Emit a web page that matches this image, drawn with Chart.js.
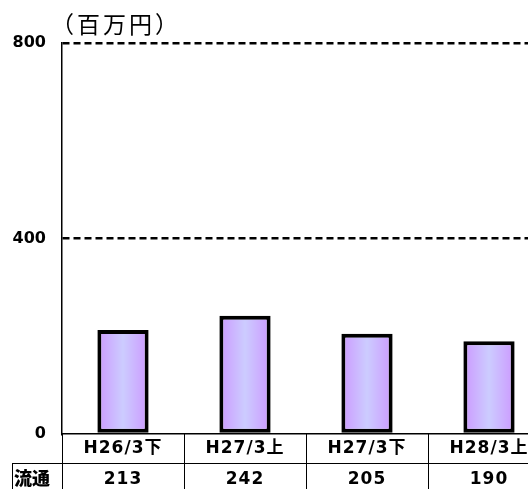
<!DOCTYPE html>
<html><head><meta charset="utf-8">
<script src="https://cdn.jsdelivr.net/npm/chart.js@4"></script>
<style>html,body{margin:0;padding:0;overflow:hidden;background:#fff;width:528px;height:489px}canvas{display:block}</style>
</head><body>
<canvas id="c" width="560" height="489"></canvas>
<script>
const categories = ['H26/3下', 'H27/3上', 'H27/3下', 'H28/3上'];
const values = [213, 242, 205, 190];
const rowLabel = '流通';
const unitLabel = '（百万円）';
const yTicks = [0, 400, 800];

const BAR_PCT = 0.42;

function barGradient(ctx) {
  const chart = ctx.chart;
  const xs = chart.scales.x;
  if (!chart.chartArea || !xs || ctx.dataIndex === undefined) return '#cc99ff';
  const cx = xs.getPixelForValue(ctx.dataIndex);
  const w = xs.width / categories.length * BAR_PCT;
  const g = chart.ctx.createLinearGradient(cx - w / 2, 0, cx + w / 2, 0);
  g.addColorStop(0, '#cc99ff');
  g.addColorStop(0.5, '#ccccff');
  g.addColorStop(1, '#cc99ff');
  return g;
}

const tablePlugin = {
  id: 'tablePlugin',
  afterDraw(chart) {
    const c = chart.ctx;
    const xs = chart.scales.x;
    const area = chart.chartArea;
    const bottom = area.bottom;
    const rowMid = 463;
    const end = 489;
    c.save();
    c.strokeStyle = '#000';
    c.lineWidth = 1;
    for (let i = 0; i <= categories.length; i++) {
      const x = Math.round(xs.getPixelForValue(i - 0.5)) + 0.5;
      c.beginPath(); c.moveTo(x, bottom); c.lineTo(x, end); c.stroke();
    }
    c.beginPath(); c.moveTo(12, rowMid + 0.5); c.lineTo(area.right, rowMid + 0.5); c.stroke();
    c.beginPath(); c.moveTo(12.5, rowMid); c.lineTo(12.5, end); c.stroke();
    c.fillStyle = '#000';
    c.textAlign = 'center';
    c.textBaseline = 'middle';
    c.font = 'bold 17px "DejaVu Sans", "Noto Sans CJK JP"';
    c.letterSpacing = '1px';
    categories.forEach((lab, i) => {
      c.fillText(lab, xs.getPixelForValue(i), 449);
    });
    values.forEach((v, i) => {
      c.fillText(String(v), xs.getPixelForValue(i), 480);
    });
    c.letterSpacing = '0px';
    c.font = '900 18px "Noto Sans CJK JP"';
    c.textAlign = 'left';
    c.fillText(rowLabel, 14, 478);
    c.font = '23px "Noto Sans CJK JP"';
    c.letterSpacing = '3px';
    c.textAlign = 'left';
    c.fillText(unitLabel, 51, 24);
    c.restore();
  }
};

new Chart(document.getElementById('c'), {
  type: 'bar',
  data: {
    labels: categories,
    datasets: [{
      data: values,
      backgroundColor: barGradient,
      borderColor: '#000',
      borderWidth: 4,
      borderSkipped: false,
      barPercentage: BAR_PCT,
      categoryPercentage: 1
    }]
  },
  options: {
    responsive: false,
    animation: false,
    devicePixelRatio: 1,
    layout: { padding: { top: 43, right: 10, left: 0, bottom: 0 } },
    plugins: { legend: { display: false }, tooltip: { enabled: false }, title: { display: false } },
    scales: {
      x: {
        grid: { display: false, drawTicks: false },
        border: { display: true, color: '#000', width: 1.5 },
        ticks: { display: false },
        afterFit(s) { s.height = 55; }
      },
      y: {
        min: 0, max: 800,
        afterBuildTicks(s) { s.ticks = yTicks.map(v => ({ value: v })); },
        ticks: {
          color: '#000',
          font: { family: 'DejaVu Sans', weight: 'bold', size: 16 },
          padding: 16
        },
        grid: {
          drawTicks: false,
          lineWidth: 2.5,
          color: (ctx) => ctx.tick && ctx.tick.value === 0 ? 'rgba(0,0,0,0)' : '#000'
        },
        border: { display: true, color: '#000', width: 1.5, dash: [7, 4] },
        afterFit(s) { s.width = 62; }
      }
    }
  },
  plugins: [tablePlugin]
});
</script>
</body></html>
